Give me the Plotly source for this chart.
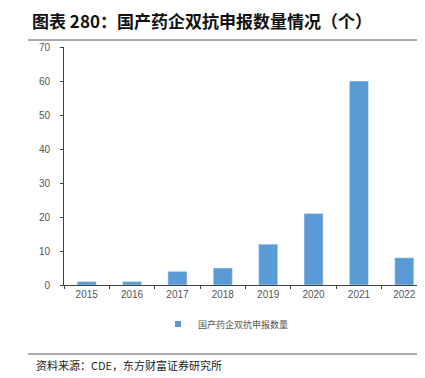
import plotly.graph_objects as go

years = ["2015", "2016", "2017", "2018", "2019", "2020", "2021", "2022"]
counts = [1, 1, 4, 5, 12, 21, 60, 8]
series_name = "国产药企双抗申报数量"
title_text = "图表 280：国产药企双抗申报数量情况（个）"
source_text = "资料来源：CDE，东方财富证券研究所"

W, H = 425, 378
L, R, T, B = 56, 6, 39, 101
pw, ph = W - L - R, H - T - B

def px(x):
    return (x - L) / pw

def py(y):
    return (H - B - y) / ph

bar_color = "#5B9BD5"
fig = go.Figure()
fig.add_trace(go.Bar(x=years, y=counts, name=series_name, marker_color=bar_color,
                     width=0.42, showlegend=False))
fig.add_trace(go.Scatter(x=[None], y=[None], mode="markers", name=series_name,
                         marker=dict(symbol="square", size=6, color=bar_color), showlegend=True))

cjk = "Noto Sans CJK SC"
tickfont = dict(family="Liberation Sans Narrow, Arial Narrow, Liberation Sans", size=10, color="#555555")
fig.update_layout(
    width=W, height=H,
    margin=dict(l=L, r=R, t=T, b=B),
    paper_bgcolor="white", plot_bgcolor="white",
    showlegend=True,
    legend=dict(orientation="h", x=px(218), xanchor="center", y=py(316), yanchor="middle",
                font=dict(family=cjk, size=9, color="#555555"),
                itemwidth=30),
    xaxis=dict(showline=True, linecolor="#404040", linewidth=1, ticks="outside",
               ticklen=3, tickcolor="#404040", tickson="boundaries",
               tickfont=tickfont, showgrid=False),
    yaxis=dict(range=[0, 70], dtick=10, showline=True, linecolor="#404040", linewidth=1,
               ticks="outside", ticklen=3, tickcolor="#404040", showgrid=False, zeroline=False,
               ticklabelstandoff=8, tickfont=tickfont),
    annotations=[
        dict(text="<b>" + title_text + "</b>", xref="paper", yref="paper", x=px(22), y=py(13),
             xanchor="left", yanchor="middle", showarrow=False,
             font=dict(family=cjk, size=17, color="#111111")),
        dict(text=source_text, xref="paper", yref="paper", x=px(26), y=py(357),
             xanchor="left", yanchor="middle", showarrow=False,
             font=dict(family=cjk, size=11, color="#222222")),
    ],
    shapes=[
        dict(type="line", xref="paper", yref="paper", x0=px(20), x1=px(420), y0=py(32), y1=py(32),
             line=dict(color="#555555", width=1)),
        dict(type="line", xref="paper", yref="paper", x0=px(20), x1=px(420), y0=py(346), y1=py(346),
             line=dict(color="#555555", width=1)),
    ],
)
fig.write_html("out.html")
